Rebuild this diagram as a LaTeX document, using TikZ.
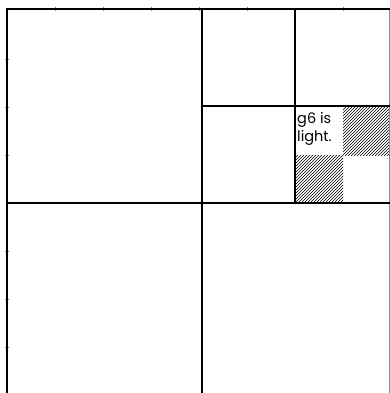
\documentclass[tikz,border=0pt]{standalone}
\usepackage{fontspec}
\setmainfont{Poppins}
\usetikzlibrary{patterns}

\begin{document}
\begin{tikzpicture}[x=1pt,y=-1pt,every node/.style={font=\fontsize{14.5}{18}\selectfont}]
\useasboundingbox (0,0) rectangle (390,393);
\coordinate (tl) at (7,9);
\coordinate (tr) at (390,9);
\coordinate (bl) at (7,393);
\coordinate (mt) at (202,9);
\coordinate (mb) at (202,393);
\coordinate (ml) at (7,203);
\coordinate (mr) at (390,203);
\coordinate (qt) at (295,9);
\coordinate (qb) at (295,203);
\coordinate (ql) at (202,106);
\coordinate (qr) at (390,106);
% shaded squares
\fill[pattern=north east lines,pattern color=black] (343,106) rectangle (390,155);
\fill[pattern=north east lines,pattern color=black] (295,155) rectangle (343,203);
% grid marks on the edge
\foreach \t in {55,103,151,199,247,343}
  \draw[line width=.6pt,black!50] (\t,7) -- (\t,11);
\foreach \t in {59,107,155,251,299,347}
  \draw[line width=.6pt,black!50] (5,\t) -- (9,\t);
\draw[line width=.8pt,black!45] (389.5,9) -- (389.5,393);
% board
\draw[line width=2.8pt] (bl) -- (tl) -- (tr);
\draw[line width=2pt] (mt) -- (mb);
\draw[line width=2pt] (ml) -- (mr);
\draw[line width=2pt] (qt) -- (qb);
\draw[line width=2pt] (ql) -- (qr);
\node[anchor=north west,align=left,inner sep=0pt] (note) at (297,112.5) {g6 is\\light.};
\end{tikzpicture}
\end{document}
